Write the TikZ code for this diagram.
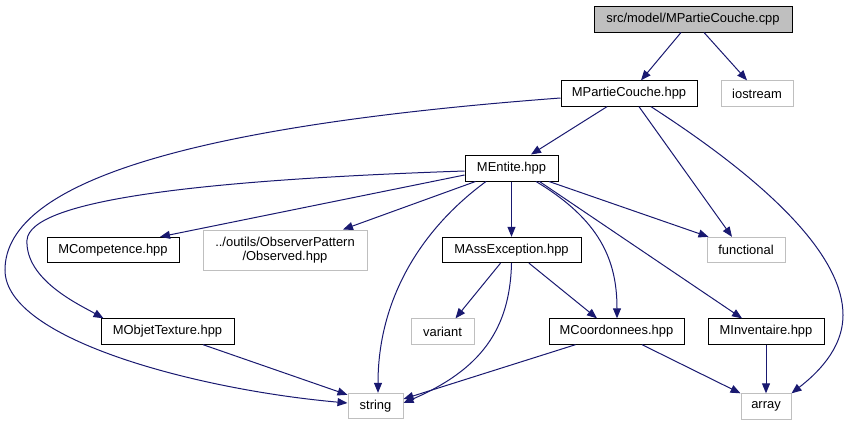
\documentclass[tikz,border=0pt]{standalone}
\usepackage{fontspec}
\setmainfont{Liberation Sans}
\usetikzlibrary{arrows.meta,calc}
\definecolor{edgeblue}{HTML}{191970}
\definecolor{grayline}{HTML}{BFBFBF}
\tikzset{
  box/.style={draw=black, line width=0.75pt, inner sep=0pt, minimum height=19pt, font=\fontsize{9.7}{11}\selectfont, align=center, fill=white},
  graybox/.style={box, draw=grayline},
  rootbox/.style={box, fill=grayline},
  edge/.style={draw=edgeblue, line width=0.75pt, -{Triangle[length=7.5pt,width=6pt]}}
}
\begin{document}
\begin{tikzpicture}[x=0.75pt,y=-0.75pt]
\useasboundingbox (0,0) rectangle (849,425);
\node[rootbox, minimum width=148.5pt, minimum height=19.5pt] (cpp) at (693,19) {src/model/MPartieCouche.cpp};
\node[box, minimum width=102pt] (mpc) at (629,93.5) {MPartieCouche.hpp};
\node[graybox, minimum width=54pt] (ios) at (757,93.5) {iostream};
\node[box, minimum width=69.75pt, minimum height=19.5pt] (ment) at (511.5,168) {MEntite.hpp};
\node[box, minimum width=99pt] (mcomp) at (113,250) {MCompetence.hpp};
\node[graybox, minimum width=123pt, minimum height=30pt] (obs) at (285,250) {../outils/ObserverPattern\\/Observed.hpp};
\node[box, minimum width=104.25pt] (mass) at (511.5,250) {MAssException.hpp};
\node[graybox, minimum width=58.5pt] (func) at (746,250) {functional};
\node[box, minimum width=99.75pt] (mobj) at (167.5,331.5) {MObjetTexture.hpp};
\node[graybox, minimum width=47.25pt] (var) at (442.5,331.5) {variant};
\node[box, minimum width=101.25pt] (mcoord) at (616.5,331.5) {MCoordonnees.hpp};
\node[box, minimum width=87pt] (minv) at (766,331.5) {MInventaire.hpp};
\node[graybox, minimum width=41.25pt] (str) at (375.5,406) {string};
\node[graybox, minimum width=37.5pt] (arr) at (766,406.5) {array};

% cpp
\draw[edge] ($(cpp.south)+(-12,0)$) -- ($(mpc.north)+(12,0)$);
\draw[edge] ($(cpp.south)+(11,0)$) -- ($(ios.north)+(-10,0)$);
% MPartieCouche
\draw[edge] ($(mpc.south)+(-22,0)$) -- ($(ment.north)+(19.5,0)$);
\draw[edge] ($(mpc.south)+(10,0)$) -- ($(func.north)+(-14,0)$);
\draw[edge] ($(mpc.south)+(22,0)$) .. controls (780,190) and (843,260) .. (843,315) .. controls (843,350) and (815,375) .. (arr.north east);
\draw[edge] ($(mpc.west)+(0,4.5)$) .. controls (200,125) and (5,180) .. (5,270) .. controls (5,340) and (200,390) .. ($(str.west)+(0,-3)$);
% MEntite
\draw[edge] ($(ment.west)+(0,7)$) -- ($(mcomp.north)+(47,0)$);
\draw[edge] ($(ment.south west)+(11,0)$) -- ($(obs.north)+(58,0)$);
\draw[edge] ($(ment.west)+(0,3)$) .. controls (200,180) and (30,200) .. (27,240) .. controls (25,280) and (80,305) .. ($(mobj.north west)+(3,0)$);
\draw[edge] ($(ment.south)+(-25.5,0)$) .. controls (420,230) and (378,300) .. ($(str.north)+(2.5,0)$);
\draw[edge] (ment.south) -- (mass.north);
\draw[edge] ($(ment.south)+(24.5,0)$) .. controls (600,220) and (617,260) .. ($(mcoord.north)+(0.5,0)$);
\draw[edge] ($(ment.south)+(28,0)$) -- ($(minv.north)+(-24,0)$);
\draw[edge] ($(ment.south)+(37.5,0)$) -- ($(func.north west)+(2,0)$);
% MAssException
\draw[edge] ($(mass.south)+(-11,0)$) -- ($(var.north)+(13,0)$);
\draw[edge] ($(mass.south)+(17.5,0)$) -- ($(mcoord.north)+(-19.5,0)$);
\draw[edge] (mass.south) .. controls (510,330) and (480,370) .. ($(str.east)+(0,-3)$);
% others
\draw[edge] ($(mcoord.south)+(-41,0)$) -- ($(str.east)+(0,-7)$);
\draw[edge] ($(mcoord.south)+(25.5,0)$) -- (arr.north west);
\draw[edge] (minv.south) -- (arr.north);
\draw[edge] ($(mobj.south)+(35.5,0)$) -- ($(str.north west)+(0,2)$);
\end{tikzpicture}
\end{document}
